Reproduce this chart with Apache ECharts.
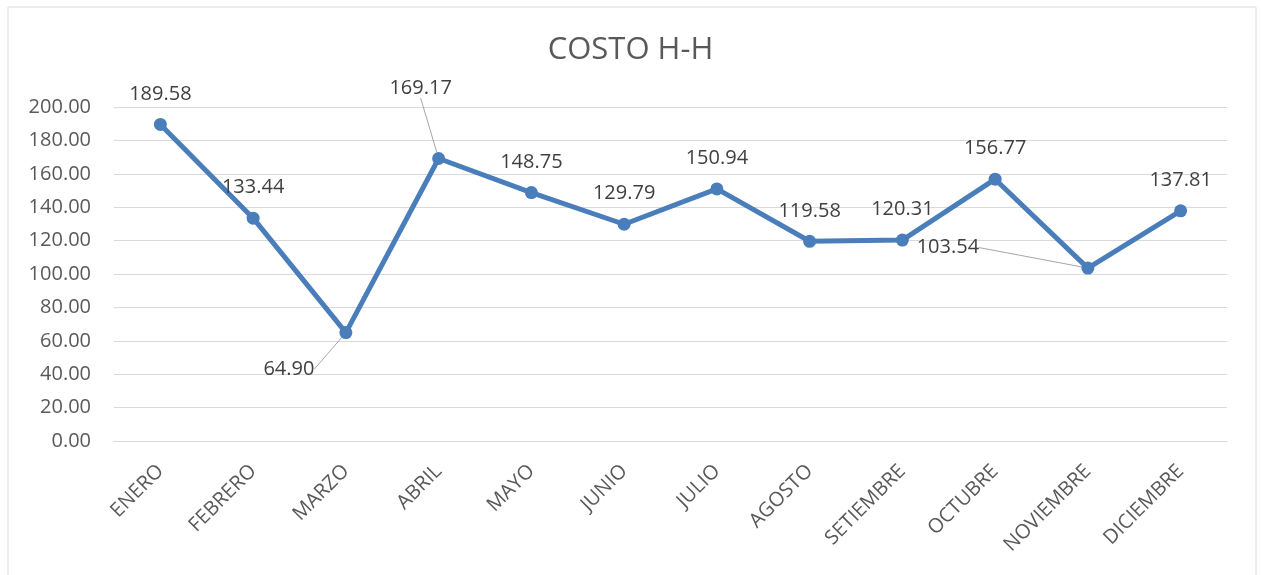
<!DOCTYPE html>
<html>
<head>
<meta charset="utf-8">
<script src="https://cdn.jsdelivr.net/npm/echarts@6/dist/echarts.min.js"></script>
<style>
  html, body { margin: 0; padding: 0; background: #fff; }
  #chart { width: 1261px; height: 575px; }
</style>
</head>
<body>
<div id="chart"></div>
<script>
// datos del grafico
const meses = ['ENERO', 'FEBRERO', 'MARZO', 'ABRIL', 'MAYO', 'JUNIO', 'JULIO',
  'AGOSTO', 'SETIEMBRE', 'OCTUBRE', 'NOVIEMBRE', 'DICIEMBRE'];
const costo = [189.58, 133.44, 64.90, 169.17, 148.75, 129.79, 150.94,
  119.58, 120.31, 156.77, 103.54, 137.81];
const yTicks = [0, 20, 40, 60, 80, 100, 120, 140, 160, 180, 200];

// etiquetas que Excel movio (con linea guia)
const labelShift = {
  2: { dx: -57, dy: 67 },
  3: { dx: -18, dy: -40 },
  10: { dx: -140, dy: 10 }
};

const chart = echarts.init(document.getElementById('chart'));

const option = {
  animation: false,
  textStyle: { fontFamily: 'Open Sans' },
  title: {
    text: 'COSTO H-H',
    left: 'center',
    top: 30,
    textStyle: { fontFamily: 'Open Sans', fontSize: 31, fontWeight: 'normal', color: '#595959' }
  },
  graphic: [{
    type: 'rect',
    shape: { x: 8, y: 7, width: 1248, height: 572 },
    style: { fill: 'none', stroke: '#d9d9d9', lineWidth: 1 },
    silent: true
  }],
  grid: { left: 114, right: 34, top: 107, bottom: 134 },
  xAxis: {
    type: 'category',
    data: meses,
    boundaryGap: true,
    axisLine: { show: true, lineStyle: { color: '#d9d9d9', width: 1 } },
    axisTick: { show: false },
    axisLabel: { rotate: 45, margin: 27, fontSize: 20, color: '#595959', fontFamily: 'Open Sans' }
  },
  yAxis: {
    type: 'value',
    min: yTicks[0],
    max: yTicks[yTicks.length - 1],
    interval: 20,
    axisLine: { show: false },
    axisTick: { show: false },
    splitLine: { lineStyle: { color: '#d9d9d9', width: 1 } },
    axisLabel: {
      margin: 23, fontSize: 20, color: '#595959', fontFamily: 'Open Sans',
      formatter: v => v.toFixed(2)
    }
  },
  series: [{
    type: 'line',
    data: costo.map((v, i) => labelShift[i] ? { value: v, labelLine: { show: true } } : v),
    symbol: 'circle',
    symbolSize: 13,
    lineStyle: { color: '#4A7EBB', width: 5 },
    itemStyle: { color: '#4A7EBB' },
    label: {
      show: true,
      position: 'top',
      distance: 14,
      fontSize: 20,
      color: '#404040',
      fontFamily: 'Open Sans',
      formatter: p => p.value.toFixed(2)
    },
    labelLine: { show: false, lineStyle: { color: '#a6a6a6', width: 1 } },
    labelLayout: p => labelShift[p.dataIndex] || {}
  }]
};

chart.setOption(option);
</script>
</body>
</html>
